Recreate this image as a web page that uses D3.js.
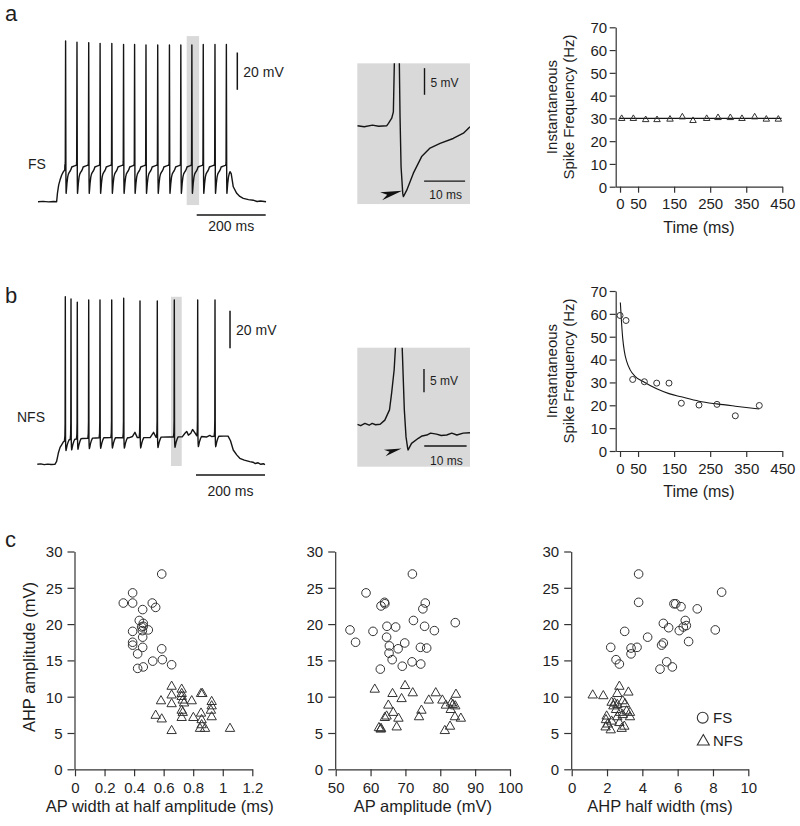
<!DOCTYPE html>
<html><head><meta charset="utf-8">
<script src="https://cdn.jsdelivr.net/npm/d3@7"></script>
<style>
body{margin:0;background:#fff}
svg{display:block;font-family:Arial,"Liberation Sans",Helvetica,sans-serif}
</style></head><body>
<svg id="fig" width="800" height="826"></svg>
<script>
// ================= DATA =================
// --- Panel a: FS spike train (ms, mV) ---
const fsSpikeTimes = [80,113,147,180,214,248,280,313,347,381,414,446,479,513,546];
const fsSpikePeaks = [16.2,15.5,15.3,14.9,14.9,14.3,14.3,14.0,14.0,14.0,14.0,14.0,14.3,14.3,14.3];
const fsOnset  = [[0,-70],[15,-69.8],[30,-70.1],[45,-69.9],[54,-70],[56.5,-65.3],[60,-61],[63.8,-58.4],[68.7,-55.7],[73.3,-54],[77.5,-53]];
const fsOffset = [[556.5,-53.9],[560,-55],[566,-62],[576,-65.5],[585,-67.2],[595,-68.2],[610,-68.9],[624,-69.2],[635,-69.9],[645,-69.6],[661,-70]];
const fsSpikeShape = [[-2.1,-50.5],[-1.3,-49.6],[-0.9,-48.4],[0,null],[0.98,-58.7],[1.5,-65.5],[2.4,-63.8],[4,-60],[6,-56.8],[8,-55.2],[10.5,-54.3],[13.7,-53.4],[16.2,-52.4],[17.8,-51.4],[24,-50.9],[30,-50.5]];
const fsHighlight = [431, 467];
// FS inset (ms relative to spike, mV)
const fsInset = [[-9.7,-51],[-8,-51.2],[-6,-50.9],[-4.5,-51.1],[-2.5,-51],[-2.1,-50.55],[-1.3,-49.6],[-0.9,-48.4],[-0.66,-39.3],[0,-20],[0.56,-39.3],[0.73,-49.3],[0.98,-58.7],[1.39,-63.7],[1.54,-64.3],[2.37,-63.1],[3.98,-59.9],[6.0,-56.8],[8.05,-55.2],[10.5,-54.3],[13.7,-53.4],[16.2,-52.4],[17.8,-51.2]];

// --- Panel b: NFS spike train ---
const nfsSpikeTimes = [81.2,97.7,115.9,149,181.7,215.7,250.4,297.7,347.8,397.1,464.9,515.1];
const nfsSpikePeaks = [19.1,17.9,16.2,17.4,17.4,17.4,18.3,16.9,16.9,17.4,17.4,17.4];
const nfsSpikeShape = [[-2.5,0],[-1.2,2.5],[-0.6,9],[0,null],[0.7,0],[1.3,-4],[2.0,-5.5],[3,-4.8],[5,-3],[8,-1.2],[11,0]];
const nfsBase = [[0,-70],[10,-69.8],[20,-70.2],[30,-69.9],[40,-70.1],[51,-70],[56,-68.5],[61,-64],[66,-61],[71,-59.5],[76,-58],[81,-57.2],[100,-56.8],[130,-56.3],[170,-56],[220,-55.8],[265,-55.9],[276,-55.2],[283,-53],[290,-55.8],[327,-55.8],[337,-53],[344,-55.6],[380,-55.5],[420,-55.4],[428,-53.5],[433,-52.5],[438,-54.5],[445,-53.5],[450,-51.5],[456,-53],[463,-55],[490,-55.5],[500,-54.6],[505,-55.2],[540,-55],[553,-55],[560,-57.5],[568,-62.4],[578,-65],[587,-66.8],[600,-67.8],[616,-68.6],[625,-68.9],[632,-69.6],[640,-69.2],[648,-70],[655,-69.7],[660,-70.2]];
const nfsHighlight = [387.5, 418.6];
const nfsInset = [[-9.8,-56],[-9,-56.3],[-8,-55.8],[-7,-56.2],[-6.3,-55.8],[-5.5,-56.1],[-4.4,-56],[-3.3,-55.1],[-2.2,-52.9],[-1.7,-49.3],[-1.1,-44.3],[-0.8,-39.6],[0,-25],[0.8,-39.6],[1.3,-52.9],[1.7,-58.7],[2.1,-61.2],[2.2,-61.5],[3.0,-60.1],[4.6,-59],[5.5,-58.5],[6.6,-58.3],[7.5,-57.9],[8.9,-58.1],[10,-58.4],[11.3,-58.3],[12.5,-57.9],[13.7,-58.3],[15.2,-57.9],[16.8,-57.8]];

// --- Instantaneous frequency ---
const fsFreqTime = [4.6,37,71.2,102.6,138.6,172.8,202.4,240.3,271.7,305.9,338.2,373.3,405.7,439];
const fsFreq     = [29.9,29.9,29.4,29.4,29.6,30.6,29,29.9,30.3,30.3,29.9,30.6,29.6,29.6];
const fsFitTime  = [-3,448];
const fsFitFreq  = [30,30];
const nfsFreqTime = [0,16.6,35.1,67.5,101.7,135.8,170,219,268.9,319.7,386.2];
const nfsFreq     = [59.3,57.1,31.3,30.3,29.7,29.7,20.9,20.1,20.4,15.4,19.9];
const nfsFitTime = [0.9,3.7,7.4,12,18.5,27.7,41.6,67.5,101.7,135.8,170,219,268.9,319.7,386.2];
const nfsFitFreq = [65,57.4,49.4,43.6,39.2,35.6,32.7,30.1,27.2,25.1,23.7,21.8,20.6,19.6,18.4];
const freqTicks = [0,10,20,30,40,50,60,70];
const timeTicks = [0,50,150,250,350,450];

// --- Panel c scatter ---
const apWidthFS = [[0.587,26.9],[0.39,24.3],[0.327,22.9],[0.39,22.9],[0.458,22.0],[0.523,22.9],[0.546,22.3],[0.435,20.5],[0.462,20.1],[0.451,19.6],[0.462,19.7],[0.496,19.2],[0.39,19.0],[0.456,19.1],[0.39,17.5],[0.39,17.1],[0.458,18.2],[0.458,16.8],[0.587,16.6],[0.424,15.9],[0.526,14.9],[0.591,15.1],[0.654,14.4],[0.424,13.9],[0.462,14.1]];
const apWidthNFS = [[0.654,11.4],[0.722,11.0],[0.722,10.4],[0.654,10.2],[0.582,9.4],[0.654,9.0],[0.722,10.0],[0.729,9.5],[0.738,9.1],[0.79,9.4],[0.853,10.4],[0.862,10.4],[0.925,9.3],[0.925,8.7],[0.92,8.1],[0.925,7.2],[0.722,8.1],[0.729,7.8],[0.722,7.1],[0.801,7.1],[0.853,7.7],[0.857,6.8],[0.857,6.1],[0.846,5.6],[0.88,5.6],[0.546,7.4],[0.587,6.9],[0.654,5.3],[1.049,5.6]];
const apAmpFS = [[72.0,26.9],[58.7,24.3],[63.0,22.5],[64.0,23.0],[64.1,22.8],[75.7,22.9],[75.0,22.1],[72.3,20.5],[84.3,20.2],[54.1,19.2],[60.7,19.0],[64.7,19.7],[67.2,19.6],[75.5,19.7],[78.3,19.1],[64.6,18.2],[55.7,17.5],[69.8,17.4],[65.4,17.0],[67.9,16.6],[74.3,16.8],[76.1,16.7],[65.3,16.0],[66.2,15.1],[62.8,13.8],[69.1,14.2],[71.9,14.8],[74.4,14.5]];
const apAmpNFS = [[61.2,11.0],[69.9,11.5],[66.3,10.4],[72.1,10.5],[78.7,10.5],[84.5,10.3],[68.9,9.7],[76.7,9.5],[80.6,9.5],[65.1,8.8],[81.6,8.8],[83.1,9.1],[83.6,8.9],[84.3,8.7],[74.6,8.1],[83.0,8.2],[66.5,7.8],[64.6,7.3],[64.1,7.1],[68.0,7.0],[73.9,7.2],[84.2,7.2],[85.9,7.0],[62.4,5.7],[63.0,5.6],[67.5,5.8],[82.8,5.9],[81.3,5.3],[62.9,5.5]];
const ahpWidthFS = [[3.79,26.9],[8.49,24.4],[3.79,23.0],[5.79,22.8],[5.89,22.8],[6.19,22.4],[7.11,22.1],[5.19,20.1],[6.43,20.5],[6.49,19.8],[5.49,19.5],[6.32,19.6],[6.09,19.1],[3.0,19.0],[8.13,19.2],[4.30,18.2],[5.19,17.4],[5.09,17.1],[6.62,17.6],[2.21,16.8],[3.36,16.7],[3.70,16.8],[3.36,15.9],[2.51,15.1],[2.70,14.5],[5.38,14.8],[5.0,13.8],[5.70,14.1]];
const ahpWidthNFS = [[1.19,10.2],[1.79,10.1],[2.70,11.4],[3.21,10.6],[2.58,10.4],[2.26,9.2],[2.42,9.1],[2.89,9.4],[2.36,8.7],[2.51,8.2],[3.11,8.0],[3.30,7.8],[1.98,7.3],[2.58,7.2],[2.89,7.5],[3.30,7.2],[1.94,6.8],[2.26,6.6],[2.70,6.4],[1.92,5.8],[2.21,5.4],[2.83,5.6],[2.98,5.9],[2.04,6.2],[2.58,8.9],[3.02,9.0],[2.74,7.8]];
const ahpAmpTicks = [0,5,10,15,20,25,30];
const apWidthTicks = [0,0.2,0.4,0.6,0.8,1,1.2];
const apAmpTicks = [50,60,70,80,90,100];
const ahpWidthTicks = [0,2,4,6,8,10];
const legendLabels = ["FS","NFS"];

// ================= DRAW =================
const svg = d3.select("#fig");
svg.append("rect").attr("width",800).attr("height",826).attr("fill","#fff");
const INK = "#151515", AX = "#333", TXT = "#1e1e1e", GRAY = "#d9d9d9";

function label(x,y,t,size,anchor){
  return svg.append("text").attr("x",x).attr("y",y).text(t)
    .attr("font-size",size).attr("fill",TXT).attr("text-anchor",anchor||"start");
}
label(5,21,"a",22); label(5,303,"b",22); label(5,547,"c",22);

// ---- build traces ----
function buildFS(){
  const pts = fsOnset.map(d=>d.slice());
  fsSpikeTimes.forEach((ts,i)=>{
    const next = i<fsSpikeTimes.length-1 ? fsSpikeTimes[i+1]+fsSpikeShape[0][0] : fsOffset[0][0];
    fsSpikeShape.forEach(([dt,v])=>{
      const t = ts+dt;
      if (dt<=0 || t<next) pts.push([t, v===null ? fsSpikePeaks[i] : v]);
    });
  });
  return pts.concat(fsOffset);
}
function buildNFS(){
  const base = d3.scaleLinear().domain(nfsBase.map(d=>d[0])).range(nfsBase.map(d=>d[1]));
  const first = nfsSpikeShape[0][0], last = nfsSpikeShape[nfsSpikeShape.length-1][0];
  let pts = nfsBase.filter(([t])=>!nfsSpikeTimes.some(ts=>t>=ts+first && t<=ts+last)).map(d=>d.slice());
  nfsSpikeTimes.forEach((ts,i)=>{
    nfsSpikeShape.forEach(([dt,dv])=>{
      pts.push([ts+dt, dv===null ? nfsSpikePeaks[i] : base(ts+dt)+dv]);
    });
  });
  pts.sort((a,b)=>a[0]-b[0]);
  return pts;
}

function drawTrace(cfg){
  const x = d3.scaleLinear().domain([0,660]).range(cfg.xr);
  const y = d3.scaleLinear().domain([-70,20]).range(cfg.yr);
  svg.append("rect").attr("x",x(cfg.hl[0])).attr("width",x(cfg.hl[1])-x(cfg.hl[0]))
    .attr("y",y(cfg.hlV[1])).attr("height",y(cfg.hlV[0])-y(cfg.hlV[1])).attr("fill",GRAY);
  const line = d3.line().x(d=>x(d[0])).y(d=>y(d[1]));
  svg.append("path").attr("d",line(cfg.pts)).attr("fill","none").attr("stroke",INK)
    .attr("stroke-width",1.4).attr("stroke-linejoin","round");
  svg.append("line").attr("x1",x(cfg.vbarT)).attr("x2",x(cfg.vbarT)).attr("y1",y(cfg.vbarV)).attr("y2",y(cfg.vbarV+20))
    .attr("stroke",INK).attr("stroke-width",1.5);
  label(x(cfg.vbarT)+6, cfg.vbarTextY, "20 mV", 14);
  svg.append("line").attr("x1",x(460)).attr("x2",x(660)).attr("y1",y(cfg.hbarV)).attr("y2",y(cfg.hbarV))
    .attr("stroke",INK).attr("stroke-width",1.5);
  label(x(560), cfg.hbarTextY, "200 ms", 14, "middle");
  label(cfg.nameX, cfg.nameY, cfg.name, 14);
}
drawTrace({xr:[38,265.7], yr:[201.7,201.7-90*1.865], pts:buildFS(), hl:fsHighlight, hlV:[-71.8,18.8],
  vbarT:577.7, vbarV:-10, vbarTextY:77, hbarV:-77.1, hbarTextY:231, name:"FS", nameX:28, nameY:169});
drawTrace({xr:[37.3,265], yr:[464.3,464.3-90*1.88], pts:buildNFS(), hl:nfsHighlight, hlV:[-70.9,19.1],
  vbarT:558.6, vbarV:-8.3, vbarTextY:335, hbarV:-75.7, hbarTextY:496, name:"NFS", nameX:17, nameY:422});

// ---- insets ----
function drawInset(cfg, id){
  const x = d3.scaleLinear().domain(cfg.td).range([357.3,470]);
  const y = d3.scaleLinear().domain([cfg.vRef, cfg.vRef+10]).range([cfg.yRef, cfg.yRef-10*cfg.pxPerMv]);
  const rx = 357.3, rw = 112.7, ry = y(cfg.vTop), rh = y(cfg.vBot)-y(cfg.vTop);
  svg.append("rect").attr("x",rx).attr("width",rw).attr("y",ry).attr("height",rh).attr("fill",GRAY);
  svg.append("clipPath").attr("id",id).append("rect").attr("x",rx).attr("width",rw).attr("y",ry).attr("height",rh);
  const line = d3.line().x(d=>x(d[0])).y(d=>y(d[1]));
  svg.append("path").attr("d",line(cfg.pts)).attr("clip-path",`url(#${id})`).attr("fill","none")
    .attr("stroke",INK).attr("stroke-width",1.4).attr("stroke-linejoin","round");
  svg.append("line").attr("x1",x(cfg.mvBar[0])).attr("x2",x(cfg.mvBar[0])).attr("y1",y(cfg.mvBar[1])).attr("y2",y(cfg.mvBar[1]+5))
    .attr("stroke",INK).attr("stroke-width",1.4);
  label(x(cfg.mvBar[0])+6, cfg.mvTextY, "5 mV", 12);
  svg.append("line").attr("x1",x(cfg.msBar[0])).attr("x2",x(cfg.msBar[0]+10)).attr("y1",y(cfg.msBar[1])).attr("y2",y(cfg.msBar[1]))
    .attr("stroke",INK).attr("stroke-width",1.4);
  label(x(cfg.msBar[0]+5)+1, cfg.msTextY, "10 ms", 12, "middle");
  const tx = x(cfg.arrow[0]), ty = y(cfg.arrow[1]), s = cfg.arrowScale;
  const shape = [[0,0],[-22,1.5],[-15,4],[-20,9.5]].map(([a,b])=>[tx+a*s, ty+b*s]);
  svg.append("path").attr("d","M"+shape.join("L")+"Z").attr("fill","#111");
}
drawInset({td:[-9.7,17.8], vRef:-51, yRef:125.7, pxPerMv:5.33, vTop:-39.3, vBot:-65.7, pts:fsInset,
  mvBar:[6.7,-45.2], mvTextY:87, msBar:[6.6,-61.4], msTextY:199, arrow:[1.25,-63.2], arrowScale:1}, "clipA");
drawInset({td:[-9.8,16.8], vRef:-56, yRef:424.3, pxPerMv:4.66, vTop:-39.56, vBot:-65.1, pts:nfsInset,
  mvBar:[5.94,-49.13], mvTextY:385, msBar:[6,-60.66], msTextY:465, arrow:[0.65,-61.2], arrowScale:0.8}, "clipB");

// ---- frequency plots ----
function styleAxis(g, size){
  g.attr("font-family",null);
  g.selectAll("path,line").attr("stroke",AX).attr("stroke-width",1.2);
  g.selectAll("text").attr("font-size",size).attr("fill",TXT);
}
const triPath = (w,h)=>`M0,${-h*2/3}L${w/2},${h/3}L${-w/2},${h/3}Z`;

function freqPlot(cfg){
  const x = d3.scaleLinear().domain([-12,450]).range([615.7,782.3]);
  const y = d3.scaleLinear().domain([0,70]).range(cfg.yr);
  const gx = svg.append("g").attr("transform",`translate(0,${cfg.yr[0]})`)
    .call(d3.axisBottom(x).tickValues(timeTicks).tickSize(6).tickSizeOuter(0).tickPadding(6));
  styleAxis(gx,15);
  const gy = svg.append("g").attr("transform",`translate(${x(-12)},0)`)
    .call(d3.axisLeft(y).tickValues(freqTicks).tickSize(6).tickSizeOuter(0).tickPadding(2.5));
  styleAxis(gy,15);
  gy.selectAll("text").attr("dy","0.36em");
  label(x(219), cfg.yr[0]+46, "Time (ms)", 16, "middle");
  const cy = (cfg.yr[0]+cfg.yr[1])/2;
  svg.append("text").attr("transform",`translate(557,${cy}) rotate(-90)`).attr("text-anchor","middle")
    .attr("font-size",15).attr("fill",TXT).text("Instantaneous");
  svg.append("text").attr("transform",`translate(574,${cy}) rotate(-90)`).attr("text-anchor","middle")
    .attr("font-size",15).attr("fill",TXT).text("Spike Frequency (Hz)");
  const fit = d3.line().x(d=>x(d[0])).y(d=>y(d[1])).curve(cfg.curve ? d3.curveMonotoneX : d3.curveLinear);
  svg.append("path").attr("d",fit(cfg.fitT.map((t,i)=>[t,cfg.fitF[i]])))
    .attr("fill","none").attr("stroke",INK).attr("stroke-width",1.1);
  const pts = cfg.t.map((t,i)=>[t,cfg.f[i]]);
  if (cfg.marker==="tri"){
    svg.append("g").selectAll("path").data(pts).join("path")
      .attr("transform",d=>`translate(${x(d[0])},${y(d[1])})`).attr("d",triPath(6.5,5.6))
      .attr("fill","none").attr("stroke",AX).attr("stroke-width",1);
  } else {
    svg.append("g").selectAll("circle").data(pts).join("circle")
      .attr("cx",d=>x(d[0])).attr("cy",d=>y(d[1])).attr("r",3)
      .attr("fill","none").attr("stroke",AX).attr("stroke-width",1);
  }
}
freqPlot({yr:[186.7,27.3], t:fsFreqTime, f:fsFreq, fitT:fsFitTime, fitF:fsFitFreq, marker:"tri"});
freqPlot({yr:[451,291], t:nfsFreqTime, f:nfsFreq, fitT:nfsFitTime, fitF:nfsFitFreq, marker:"circ", curve:true});

// ---- scatter plots ----
const Y0 = 769.3, Y30 = 551.5;
function scatter(cfg){
  const x = d3.scaleLinear().domain(cfg.dom).range(cfg.xr);
  const y = d3.scaleLinear().domain([0,30]).range([Y0,Y30]);
  const gx = svg.append("g").attr("transform",`translate(0,${Y0})`)
    .call(d3.axisBottom(x).tickValues(cfg.ticks).tickFormat(d=>String(+d.toFixed(1))).tickSize(7).tickSizeOuter(0).tickPadding(6));
  styleAxis(gx,15);
  const gy = svg.append("g").attr("transform",`translate(${cfg.xr[0]-0.5},0)`)
    .call(d3.axisLeft(y).tickValues(ahpAmpTicks).tickSize(7).tickSizeOuter(0).tickPadding(5));
  styleAxis(gy,15);
  gy.selectAll("text").attr("dy","0.36em");
  label((cfg.xr[0]+cfg.xr[1])/2 + (cfg.titleDx||0), 812, cfg.title, 16.5, "middle");
  svg.append("g").selectAll("circle").data(cfg.fs).join("circle")
    .attr("cx",d=>x(d[0])).attr("cy",d=>y(d[1])).attr("r",4.3)
    .attr("fill","none").attr("stroke",AX).attr("stroke-width",1);
  svg.append("g").selectAll("path").data(cfg.nfs).join("path")
    .attr("transform",d=>`translate(${x(d[0])},${y(d[1])})`).attr("d",triPath(9.4,8.2))
    .attr("fill","none").attr("stroke",AX).attr("stroke-width",1);
}
scatter({dom:[0,1.2], xr:[75,252.3], ticks:apWidthTicks, title:"AP width at half amplitude (ms)", fs:apWidthFS, nfs:apWidthNFS, titleDx:-4});
scatter({dom:[50,100], xr:[335.7,510], ticks:apAmpTicks, title:"AP amplitude (mV)", fs:apAmpFS, nfs:apAmpNFS});
scatter({dom:[0,10], xr:[571.7,748.3], ticks:ahpWidthTicks, title:"AHP half width (ms)", fs:ahpWidthFS, nfs:ahpWidthNFS});
svg.append("text").attr("transform","translate(35,657) rotate(-90)").attr("text-anchor","middle")
  .attr("font-size",16.5).attr("fill",TXT).text("AHP amplitude (mV)");

// legend
svg.append("circle").attr("cx",702.7).attr("cy",717.7).attr("r",5.4).attr("fill","none").attr("stroke",AX).attr("stroke-width",1.1);
label(713,723,legendLabels[0],15);
svg.append("path").attr("transform","translate(703.3,741.5)").attr("d",triPath(12,10.5)).attr("fill","none").attr("stroke",AX).attr("stroke-width",1.1);
label(713,746,legendLabels[1],15);
</script>
</body></html>
